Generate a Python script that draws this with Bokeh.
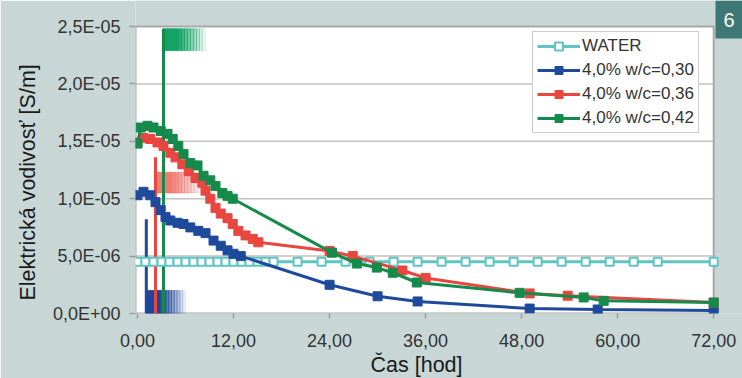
from bokeh.plotting import figure
from bokeh.models import (Range1d, FixedTicker, CustomJSTickFormatter, Legend,
                          LegendItem, Label, Title)
from bokeh.embed import file_html
from bokeh.resources import INLINE

# ---------------- data ----------------
x_ticks = [0, 12, 24, 36, 48, 60, 72]
y_ticks = [0, 5e-6, 1e-5, 1.5e-5, 2e-5, 2.5e-5]
x_title = "Čas [hod]"
y_title = "Elektrická vodivosť [S/m]"

water_x = [0, 1, 2, 3, 4, 5, 6, 7, 8, 9, 10, 11, 12, 13, 14, 15, 16, 17,
           20, 23, 26, 29, 32, 35, 38, 41, 44, 47, 50, 53, 56, 59, 62, 65, 72]
water_y = [4.5e-6, 4.5e-6, 4.5e-6, 4.5e-6, 4.5e-6, 4.5e-6, 4.5e-6, 4.5e-6,
           4.5e-6, 4.5e-6, 4.5e-6, 4.5e-6, 4.5e-6, 4.5e-6, 4.5e-6, 4.5e-6,
           4.5e-6, 4.5e-6, 4.5e-6, 4.5e-6, 4.5e-6, 4.5e-6, 4.5e-6, 4.5e-6,
           4.5e-6, 4.5e-6, 4.5e-6, 4.5e-6, 4.5e-6, 4.5e-6, 4.5e-6, 4.5e-6,
           4.5e-6, 4.5e-6, 4.5e-6]

w30_x = [0, 0.75, 1.6, 2.25, 2.9, 3.5, 4.1, 5, 5.75, 6.6, 7.6, 8.5, 9.5,
         10.4, 11.25, 12, 12.9, 24, 30, 35, 49, 57.5, 72]
w30_y = [10.3e-6, 10.6e-6, 10.3e-6, 9.7e-6, 9.0e-6, 8.4e-6, 8.1e-6, 7.9e-6,
         7.8e-6, 7.5e-6, 7.2e-6, 7.0e-6, 6.35e-6, 5.9e-6, 5.5e-6, 5.2e-6,
         5.0e-6, 2.5e-6, 1.5e-6, 1.05e-6, 0.43e-6, 0.35e-6, 0.26e-6]

w36_x = [0, 0.75, 1.6, 2.5, 3.25, 4.1, 4.75, 5.6, 6.4, 7.25, 8.1, 8.5, 9.1,
         9.75, 10.4, 11.25, 11.9, 12.6, 13.5, 14.4, 15.1, 24, 26.9, 33.1, 36,
         49, 53.75, 72]
w36_y = [14.9e-6, 15.3e-6, 15.2e-6, 14.9e-6, 14.6e-6, 14.0e-6, 13.6e-6,
         13.0e-6, 12.4e-6, 11.8e-6, 11.4e-6, 10.7e-6, 10.0e-6, 9.2e-6, 8.7e-6,
         8.3e-6, 7.8e-6, 7.2e-6, 6.8e-6, 6.5e-6, 6.2e-6, 5.45e-6, 5.0e-6,
         3.75e-6, 3.1e-6, 1.75e-6, 1.55e-6, 0.95e-6]

w42_x = [0, 0.4, 1.25, 2, 2.9, 3.75, 4.4, 5.1, 5.75, 6.6, 7.5, 8.25, 9.1,
         9.75, 10.6, 11.25, 11.9, 24.3, 27.4, 29.9, 31.9, 34.9, 47.75, 55.75,
         58.25, 72]
w42_y = [14.8e-6, 16.2e-6, 16.35e-6, 16.2e-6, 15.9e-6, 15.65e-6, 15.2e-6,
         14.6e-6, 13.9e-6, 13.1e-6, 12.9e-6, 12.0e-6, 11.6e-6, 11.1e-6,
         10.5e-6, 10.25e-6, 10.0e-6, 5.3e-6, 4.35e-6, 4.0e-6, 3.55e-6, 2.7e-6,
         1.8e-6, 1.4e-6, 1.1e-6, 0.95e-6]

series_names = ["WATER", "4,0% w/c=0,30", "4,0% w/c=0,36", "4,0% w/c=0,42"]

# stray vertical marks and faded blocks seen in the picture
mark_x = [1.1, 2.25, 3.25]
mark_top = [8.2e-6, 13.6e-6, 24.8e-6]
block_x1 = [6.0, 7.9, 8.5]
block_bottom = [0.0, 10.5e-6, 22.9e-6]
block_top = [2.0e-6, 12.3e-6, 24.8e-6]

# ---------------- layout / style ----------------
W, H = 742, 378
LEFT, BOTTOM = 135, 65            # frame spans x 135..742, y 0..313 (px)
PX_PER_H = 8.003                  # px per hour
PX_PER_Y = 11.48e6                # px per S/m
X_START = -0.25
X_END = X_START + (W - LEFT) / PX_PER_H
Y_START = 0.0
Y_END = (H - BOTTOM) / PX_PER_Y


def xd(px):
    return X_START + (px - LEFT) / PX_PER_H


def yd(py):
    return (H - BOTTOM - py) / PX_PER_Y


BG = "#c8d7d6"
C_WATER = "#5ec4c4"
C30 = "#1f4a9c"
C36 = "#e8463f"
C42 = "#168a4a"
GRID = "#c2c2c2"
FONT = "Liberation Sans"

p = figure(width=W, height=H, output_backend="svg", toolbar_location=None,
           x_range=Range1d(X_START, X_END), y_range=Range1d(Y_START, Y_END),
           min_border_left=LEFT, min_border_right=0, min_border_top=0,
           min_border_bottom=BOTTOM)
p.background_fill_color = BG
p.border_fill_color = BG
p.outline_line_color = None
p.xgrid.visible = False
p.ygrid.visible = False

# white plot area + horizontal grid lines
x_max = x_ticks[-1]
y_max = y_ticks[-1]
p.quad(left=[X_START], right=[x_max], bottom=[Y_START], top=[y_max],
       fill_color="white", line_color=None)
inner = y_ticks[1:-1]
p.segment(x0=[X_START] * len(inner), y0=inner, x1=[x_max] * len(inner), y1=inner,
          line_color=GRID, line_width=1.5)
p.quad(left=[X_START], right=[x_max], bottom=[Y_START], top=[y_max],
       fill_color=None, line_color="#a8a8a8", line_width=2)

# axes
for ax in (p.xaxis[0], p.yaxis[0]):
    ax.axis_line_color = None
    ax.major_tick_line_color = "#9a9a9a"
    ax.major_tick_line_width = 1.5
    ax.minor_tick_line_color = None
    ax.major_tick_in = 0
    ax.major_label_text_font = FONT
    ax.major_label_text_font_size = "18px"
    ax.major_label_text_color = "#333333"

p.xaxis.ticker = FixedTicker(ticks=x_ticks)
p.xaxis.formatter = CustomJSTickFormatter(code="return tick.toFixed(2).replace('.', ',');")
p.xaxis.major_tick_out = 5
p.xaxis.major_label_standoff = 15

p.yaxis.ticker = FixedTicker(ticks=y_ticks)
p.yaxis.formatter = CustomJSTickFormatter(code="""
const s = tick.toExponential(1).replace('.', ',');
const m = s.match(/^(.*)e([+-])(\\d+)$/);
let e = m[3];
if (e.length < 2) { e = '0' + e; }
return m[1] + 'E' + m[2] + e;
""")
p.yaxis.major_tick_out = 6
p.yaxis.major_label_standoff = 9

# axis titles (side-panel titles, start-aligned with an offset as in the original)
p.add_layout(Title(text=y_title, align="left", offset=13, standoff=20,
                   text_font=FONT, text_font_size="21.5px", text_font_style="normal",
                   text_color="#1a1a1a"), "left")
p.add_layout(Title(text=x_title, align="left", offset=235, standoff=2,
                   text_font=FONT, text_font_size="21.5px", text_font_style="normal",
                   text_color="#1a1a1a"), "below")

# stray marks
mark_cols = [C30, C36, C42]
block_cols = ["#1d4599", "#f07a70", "#12a365"]
n_slices = 14
for i in range(3):
    w = (block_x1[i] - mark_x[i]) / n_slices
    lefts = [mark_x[i] + k * w for k in range(n_slices)]
    rights = [l + w for l in lefts]
    alphas = [1.0 if k < 5 else max(0.0, 1.0 - (k - 4) / (n_slices - 4)) for k in range(n_slices)]
    p.quad(left=lefts, right=rights, bottom=[block_bottom[i]] * n_slices,
           top=[block_top[i]] * n_slices, fill_color=block_cols[i],
           fill_alpha=alphas, line_color=block_cols[i], line_alpha=alphas,
           line_width=0.8)
    p.segment(x0=[mark_x[i]], y0=[0], x1=[mark_x[i]], y1=[mark_top[i]],
              line_color=mark_cols[i], line_width=3)

# series
items = []
lw = p.line(water_x, water_y, line_color=C_WATER, line_width=3)
sw = p.scatter(water_x, water_y, marker="square", size=8, fill_color="white",
               line_color=C_WATER, line_width=2)
items.append(LegendItem(label=series_names[0], renderers=[lw, sw]))
for xs, ys, col, name in ((w30_x, w30_y, C30, series_names[1]),
                          (w36_x, w36_y, C36, series_names[2]),
                          (w42_x, w42_y, C42, series_names[3])):
    lr = p.line(xs, ys, line_color=col, line_width=3)
    sr = p.scatter(xs, ys, marker="square", size=9, fill_color=col, line_color=col)
    items.append(LegendItem(label=name, renderers=[lr, sr]))

legend = Legend(items=items, location=(532 - LEFT, H - BOTTOM - 133), margin=0,
                padding=4, spacing=4, glyph_width=43, glyph_height=20,
                label_height=20, label_standoff=2, label_text_font=FONT,
                label_text_font_size="17px", label_text_color="#333333",
                border_line_color="#9a9a9a", border_line_width=1,
                background_fill_color="white", background_fill_alpha=1.0)
p.add_layout(legend)

# corner badge
p.quad(left=[xd(715)], right=[X_END], bottom=[yd(38)], top=[Y_END],
       fill_color="#3d7877", line_color=None)
badge = Label(x=xd(728.5), y=yd(19), x_units="data", y_units="data", text="6",
              text_color="white", text_font=FONT, text_font_size="20px",
              text_align="center", text_baseline="middle")
p.add_layout(badge)

open("out.html", "w").write(file_html(p, INLINE))
